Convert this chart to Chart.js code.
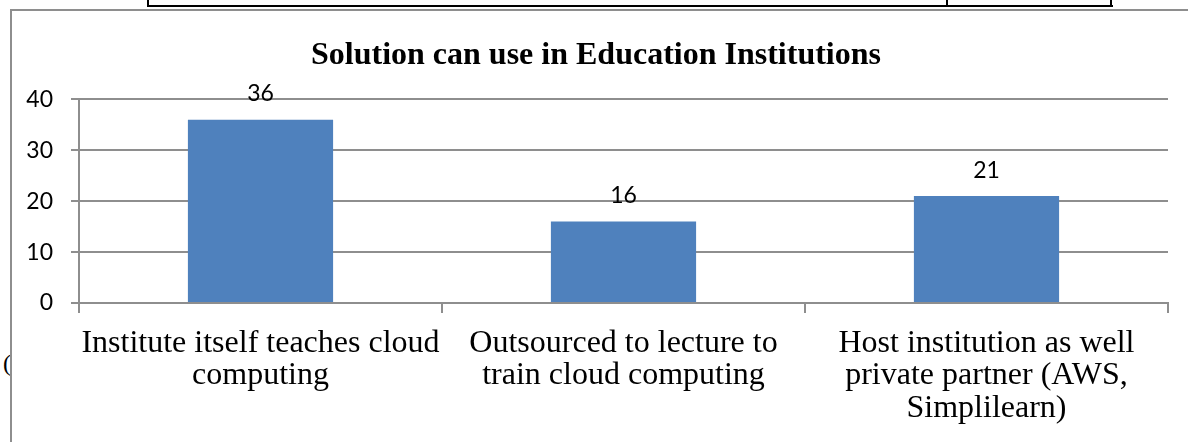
<!DOCTYPE html>
<html>
<head>
<meta charset="utf-8">
<script src="https://cdn.jsdelivr.net/npm/chart.js@4.4.1/dist/chart.umd.min.js"></script>
<style>
  html, body { margin: 0; padding: 0; background: #ffffff; }
  #wrap { position: relative; width: 1188px; height: 442px; overflow: hidden; }
  .line { position: absolute; background: #000; }
  #box { position: absolute; left: 10px; top: 9px; width: 1300px; height: 600px;
         border-left: 2px solid #8e8e8e; border-top: 2px solid #8e8e8e; }
  #paren { position: absolute; left: 3px; top: 350px; width: 7px; height: 26px; overflow: hidden;
           font-family: "Liberation Serif", serif; font-size: 24px; line-height: 26px; color: #000; }
  canvas { position: absolute; left: 0; top: 0; }
</style>
</head>
<body>
<div id="wrap">
  <div class="line" style="left:148px; top:5px; width:965px; height:2px;"></div>
  <div class="line" style="left:147px; top:0px; width:2px; height:7px;"></div>
  <div class="line" style="left:946px; top:0px; width:2px; height:7px;"></div>
  <div class="line" style="left:1110px; top:0px; width:2px; height:7px;"></div>
  <div id="box"></div>
  <div id="paren">(</div>
  <canvas id="c" width="1188" height="442"></canvas>
</div>
<script>
const titleText = "Solution can use in Education Institutions";
const categories = [
  ["Institute itself teaches cloud", "computing"],
  ["Outsourced to lecture to", "train cloud computing"],
  ["Host institution as well", "private partner (AWS,", "Simplilearn)"]
];
const values = [36, 16, 21];
const yMin = 0;
const yMax = 40;
const yStep = 10;

const barLabels = {
  id: 'barLabels',
  afterDatasetsDraw(chart) {
    const ctx = chart.ctx;
    const meta = chart.getDatasetMeta(0);
    ctx.save();
    ctx.font = '23px Lato, "Liberation Sans", sans-serif';
    ctx.fillStyle = '#000';
    ctx.textAlign = 'center';
    ctx.textBaseline = 'middle';
    meta.data.forEach((bar, i) => {
      ctx.fillText(String(chart.data.datasets[0].data[i]), bar.x, bar.y - 26);
    });
    ctx.restore();
  }
};

new Chart(document.getElementById('c'), {
  type: 'bar',
  data: {
    labels: categories,
    datasets: [{
      data: values,
      backgroundColor: '#4F81BD',
      borderWidth: 0,
      categoryPercentage: 1.0,
      barPercentage: 0.4
    }]
  },
  options: {
    responsive: false,
    devicePixelRatio: 1,
    animation: false,
    layout: { padding: { left: 24, right: 20, top: 0, bottom: 0 } },
    plugins: {
      legend: { display: false },
      tooltip: { enabled: false },
      title: {
        display: true,
        text: titleText,
        color: '#000',
        font: { family: '"Liberation Serif", "Times New Roman", serif', size: 32, weight: 'bold', lineHeight: 1.2 },
        padding: { top: 37, bottom: 24 }
      }
    },
    scales: {
      x: {
        afterFit(scale) { scale.height = 139; },
        grid: { display: true, drawOnChartArea: false, drawTicks: true, tickLength: 10, offset: true, color: '#8e8e8e', lineWidth: 2 },
        border: { display: true, color: '#8e8e8e', width: 2 },
        ticks: {
          color: '#000',
          padding: 14,
          maxRotation: 0,
          autoSkip: false,
          font: { family: '"Liberation Serif", "Times New Roman", serif', size: 32, lineHeight: 1.016 }
        }
      },
      y: {
        min: yMin,
        max: yMax,
        afterFit(scale) { scale.width = 55; },
        grid: { color: '#8e8e8e', lineWidth: 2, tickLength: 8, drawTicks: true },
        border: { display: true, color: '#8e8e8e', width: 2 },
        ticks: {
          stepSize: yStep,
          color: '#000',
          padding: 18,
          font: { family: 'Lato, "Liberation Sans", sans-serif', size: 23 }
        }
      }
    }
  },
  plugins: [barLabels]
});
</script>
</body>
</html>
